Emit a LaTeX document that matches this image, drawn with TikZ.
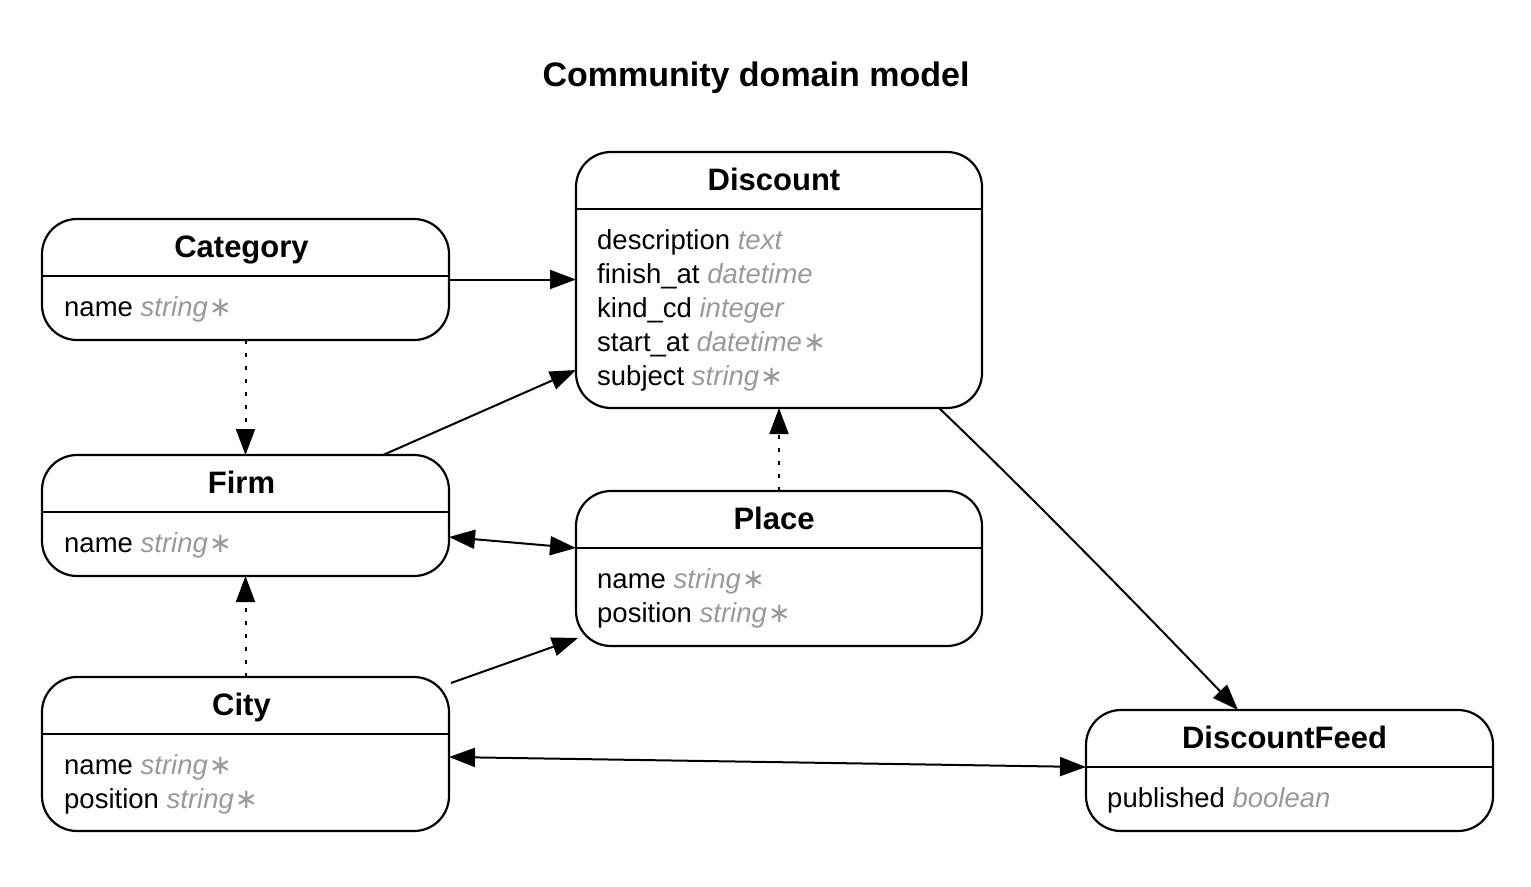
\documentclass[tikz,border=0pt]{standalone}
\usepackage{fontspec}
\setmainfont{Liberation Sans}
\newfontfamily\symbolfont{DejaVu Sans}
\usetikzlibrary{arrows.meta,calc}
\definecolor{typegray}{RGB}{153,153,153}
\newcommand\attrtype[1]{{\color{typegray}\itshape #1}}
\newcommand\reqmark{{\color{typegray}\symbolfont\kern1pt ∗}}
\begin{document}
\begin{tikzpicture}[x=1pt,y=-1pt,
  box/.style={draw, line width=2.2pt, rounded corners=35pt, inner sep=0pt, outer sep=0pt},
  divider/.style={line width=2.2pt},
  hdr/.style={font=\fontsize{31}{36}\selectfont\bfseries, anchor=base, inner sep=0pt},
  attr/.style={font=\fontsize{27.5}{34}\selectfont, anchor=base west, inner sep=0pt},
  conn/.style={line width=2pt, -{Triangle[length=26pt,width=19pt]}},
  bi/.style={line width=2pt, {Triangle[length=26pt,width=19pt]}-{Triangle[length=26pt,width=19pt]}},
  dep/.style={conn, dash pattern=on 4pt off 9pt},
]
\useasboundingbox (0,0) rectangle (1531,886);

\node[font=\fontsize{34}{40}\selectfont\bfseries, anchor=base, inner sep=0pt] (title) at (756,86) {Community domain model};

% Category
\node[box, minimum width=407pt, minimum height=121pt] (cat) at (245.5,279.5) {};
\draw[divider] ([yshift=-57pt]cat.north west) -- ([yshift=-57pt]cat.north east);
\node[hdr] (cat-h) at ([xshift=-4pt,yshift=-38.5pt]cat.north) {Category};
\node[attr] (cat-a1) at ([xshift=22pt,yshift=-97pt]cat.north west) {name \attrtype{string}\reqmark};

% Discount
\node[box, minimum width=406pt, minimum height=256pt] (disc) at (779,280) {};
\draw[divider] ([yshift=-57pt]disc.north west) -- ([yshift=-57pt]disc.north east);
\node[hdr] (disc-h) at ([xshift=-5pt,yshift=-38.5pt]disc.north) {Discount};
\node[attr] (disc-a1) at ([xshift=21pt,yshift=-97pt]disc.north west) {description \attrtype{text}};
\node[attr] (disc-a2) at ([xshift=21pt,yshift=-131pt]disc.north west) {finish\_at \attrtype{datetime}};
\node[attr] (disc-a3) at ([xshift=21pt,yshift=-165pt]disc.north west) {kind\_cd \attrtype{integer}};
\node[attr] (disc-a4) at ([xshift=21pt,yshift=-199pt]disc.north west) {start\_at \attrtype{datetime}\reqmark};
\node[attr] (disc-a5) at ([xshift=21pt,yshift=-233pt]disc.north west) {subject \attrtype{string}\reqmark};

% Firm
\node[box, minimum width=407pt, minimum height=121pt] (firm) at (245.5,515.5) {};
\draw[divider] ([yshift=-57pt]firm.north west) -- ([yshift=-57pt]firm.north east);
\node[hdr] (firm-h) at ([xshift=-4pt,yshift=-38.5pt]firm.north) {Firm};
\node[attr] (firm-a1) at ([xshift=22pt,yshift=-97pt]firm.north west) {name \attrtype{string}\reqmark};

% Place
\node[box, minimum width=406pt, minimum height=155pt] (place) at (779,568.5) {};
\draw[divider] ([yshift=-57pt]place.north west) -- ([yshift=-57pt]place.north east);
\node[hdr] (place-h) at ([xshift=-5pt,yshift=-38.5pt]place.north) {Place};
\node[attr] (place-a1) at ([xshift=21pt,yshift=-97pt]place.north west) {name \attrtype{string}\reqmark};
\node[attr] (place-a2) at ([xshift=21pt,yshift=-131pt]place.north west) {position \attrtype{string}\reqmark};

% City
\node[box, minimum width=407pt, minimum height=154pt] (city) at (245.5,754) {};
\draw[divider] ([yshift=-57pt]city.north west) -- ([yshift=-57pt]city.north east);
\node[hdr] (city-h) at ([xshift=-4pt,yshift=-38.5pt]city.north) {City};
\node[attr] (city-a1) at ([xshift=22pt,yshift=-97pt]city.north west) {name \attrtype{string}\reqmark};
\node[attr] (city-a2) at ([xshift=22pt,yshift=-131pt]city.north west) {position \attrtype{string}\reqmark};

% DiscountFeed
\node[box, minimum width=407pt, minimum height=121pt] (df) at (1289.5,770.5) {};
\draw[divider] ([yshift=-57pt]df.north west) -- ([yshift=-57pt]df.north east);
\node[hdr] (df-h) at ([xshift=-5pt,yshift=-38.5pt]df.north) {DiscountFeed};
\node[attr] (df-a1) at ([xshift=21pt,yshift=-97pt]df.north west) {published \attrtype{boolean}};

% Connectors
\draw[conn] (cat.east) -- (disc.west |- cat.east);
\draw[dep] (cat.south) -- (firm.north);
\draw[conn] ([xshift=-66pt]firm.north east) -- ([yshift=38pt]disc.south west);
\draw[bi] ([yshift=-21.5pt]firm.east) -- ([yshift=-57pt]place.north west);
\draw[dep] (city.north) -- (firm.south);
\draw[conn] ([xshift=2pt,yshift=-6pt]city.north east) -- ([xshift=2pt,yshift=8pt]place.south west);
\draw[dep] (place.north) -- (disc.south);
\draw[conn] ([xshift=-43pt]disc.south east) .. controls (1030,495) and (1150,618) .. ([xshift=-51.5pt]df.north);
\draw[bi] ([yshift=-3pt]city.east) -- ([yshift=-57pt]df.north west);
\end{tikzpicture}
\end{document}
